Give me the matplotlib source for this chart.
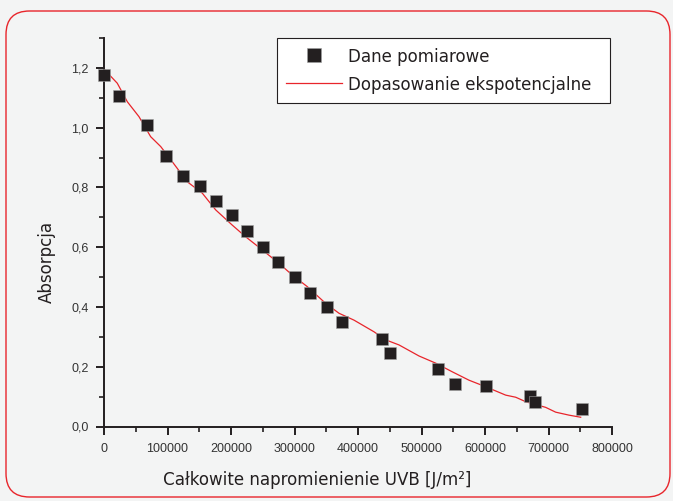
"""Absorbance vs. total UVB dose with exponential fit."""

import matplotlib

matplotlib.use("Agg")

import matplotlib.pyplot as plt
from matplotlib.font_manager import FontProperties
from matplotlib.patches import FancyBboxPatch
from matplotlib.ticker import FuncFormatter, MultipleLocator

# measured points
dose = [0, 23600, 67700, 97600, 124000, 151000, 176000, 201000, 225000, 250000,
        274000, 301000, 324000, 351000, 375000, 438000, 450000, 526000, 553000,
        602000, 671000, 679000, 753000]
absorb = [1.177, 1.106, 1.009, 0.905, 0.838, 0.805, 0.754, 0.707, 0.654, 0.600,
          0.550, 0.500, 0.446, 0.399, 0.349, 0.292, 0.245, 0.194, 0.141,
          0.134, 0.101, 0.082, 0.060]

# exponential fit curve
fit_dose = [0, 20900, 36700, 55100, 73500, 89300, 107600, 131200, 154800, 175900,
            202000, 223100, 249300, 275600, 296500, 320200, 349100, 370100, 393700,
            425200, 443600, 464600, 496100, 522400, 548500, 574800, 601100, 632600,
            648300, 664100, 695600, 711300, 732300, 750700]
fit_abs = [1.196, 1.149, 1.087, 1.037, 0.970, 0.937, 0.886, 0.819, 0.781, 0.725,
           0.674, 0.635, 0.591, 0.546, 0.507, 0.468, 0.412, 0.379, 0.356,
           0.317, 0.290, 0.273, 0.236, 0.212, 0.183, 0.155, 0.133, 0.105,
           0.098, 0.083, 0.064, 0.048, 0.038, 0.031]

INK = "#231f20"
RED = "#e8252b"
BG = "#f3f4f4"


def cond(size):
    return FontProperties(family="DejaVu Sans", stretch="condensed", size=size)


def main() -> None:
    fig = plt.figure(figsize=(6.73, 5.01), dpi=100, facecolor=BG)
    frame = FancyBboxPatch((6 / 673, 4 / 501), 664 / 673, 486 / 501,
                           boxstyle="round,pad=0,rounding_size=0.035",
                           transform=fig.transFigure, facecolor=BG,
                           edgecolor=RED, linewidth=1.0, mutation_aspect=673 / 501,
                           zorder=-5)
    fig.patches.append(frame)

    ax = fig.add_axes([104 / 673, 74.5 / 501, 508 / 673, 388.4 / 501])
    ax.set_zorder(2)
    ax.set_facecolor("none")
    ax.plot(fit_dose, fit_abs, color=RED, linewidth=0.9,
            label="Dopasowanie ekspotencjalne", zorder=2)
    ax.plot(dose, absorb, linestyle="none", marker="s", markersize=8,
            color=INK, markeredgecolor="#a0a0a0", markeredgewidth=0.4,
            label="Dane pomiarowe", zorder=3, clip_on=False)

    ax.set_xlim(0, 800000)
    ax.set_ylim(0, 1.3)
    for side in ("top", "right"):
        ax.spines[side].set_visible(False)
    for side in ("left", "bottom"):
        ax.spines[side].set_color(INK)
        ax.spines[side].set_linewidth(1.4)

    ax.xaxis.set_major_locator(MultipleLocator(100000))
    ax.xaxis.set_minor_locator(MultipleLocator(50000))
    ax.yaxis.set_major_locator(MultipleLocator(0.2))
    ax.yaxis.set_minor_locator(MultipleLocator(0.1))
    ax.yaxis.set_major_formatter(FuncFormatter(lambda v, _: f"{v:.1f}".replace(".", ",")))
    ax.xaxis.set_major_formatter(FuncFormatter(lambda v, _: f"{v:.0f}"))
    ax.tick_params(which="major", length=5.5, width=1.4, color=INK,
                   labelsize=9, labelcolor="#333333")
    ax.tick_params(axis="x", which="major", pad=6.5)
    ax.tick_params(axis="y", which="major", pad=5.5)
    ax.tick_params(which="minor", length=3.5, width=1.2, color=INK)
    for lab in ax.get_xticklabels() + ax.get_yticklabels():
        lab.set_family("Liberation Sans")

    ax.set_xlabel("Całkowite napromienienie UVB [J/m²]", fontproperties=cond(13.3),
                  color=INK)
    ax.xaxis.label.set_va("center")
    ax.xaxis.set_label_coords(0.419, -0.138)
    ax.set_ylabel("Absorpcja", fontproperties=cond(13.3), color=INK)
    ax.yaxis.label.set_va("center")
    ax.yaxis.set_label_coords(-0.112, 0.4235)

    handles, labels = ax.get_legend_handles_labels()
    leg = fig.legend(handles[::-1], labels[::-1], loc="lower left",
                     bbox_to_anchor=(277 / 673, 398 / 501, 333 / 673, 71 / 501),
                     mode="expand", fancybox=False, framealpha=1,
                     edgecolor=INK, facecolor="white", numpoints=1,
                     prop=cond(13.3), markerscale=1.2,
                     handlelength=3.0, handletextpad=0.35, borderpad=0.5,
                     labelspacing=0.55, borderaxespad=0)
    leg.get_frame().set_linewidth(0.8)
    for t in leg.get_texts():
        t.set_color(INK)

    fig.savefig("out.png", dpi=100, facecolor=BG)
    plt.close(fig)


if __name__ == "__main__":
    main()
